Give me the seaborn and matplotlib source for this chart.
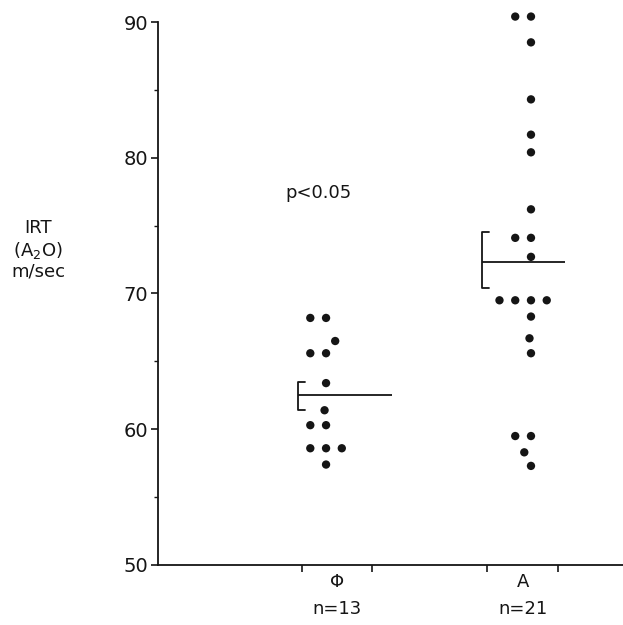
import numpy as np
import pandas as pd
import matplotlib
matplotlib.use("Agg")
import matplotlib.pyplot as plt
import seaborn as sns

# ---- data ----
groups = ["Φ", "A"]
group_n = [13, 21]
phi_values = [68.2, 68.2, 66.5, 65.6, 65.6, 63.4, 61.4, 60.3, 60.3,
              58.6, 58.6, 58.6, 57.4]
a_values = [90.4, 90.4, 88.5, 84.3, 81.7, 80.4, 76.2, 74.1, 74.1, 72.7,
            69.5, 69.5, 69.5, 69.5, 68.3, 66.7, 65.6, 59.5, 59.5, 58.3, 57.3]
group_means = [62.5, 72.3]
sem_low = [61.4, 70.4]
sem_high = [63.5, 74.5]
y_ticks = [50, 60, 70, 80, 90]
y_minor = [55, 65, 75, 85]
p_text = "p<0.05"

df = pd.DataFrame({
    "group": [groups[0]] * len(phi_values) + [groups[1]] * len(a_values),
    "IRT": phi_values + a_values,
})

sns.set_theme(style="white")
plt.rcParams["font.family"] = ["DejaVu Sans"]
ink = "#151515"

fig = plt.figure(figsize=(6.23, 6.25), dpi=100)
ax = fig.add_axes([158 / 623, 1 - 565 / 625, 1 - 158 / 623, (565 - 22) / 625])

sns.swarmplot(data=df, x="group", y="IRT", order=groups, ax=ax,
              color=ink, size=6.0, linewidth=4.8, edgecolor="none")
for coll in ax.collections:
    coll.set_clip_on(False)

# mean line + SEM bracket
line_spans = [(-0.137, 0.322), (0.761, 1.166)]
for i in range(len(groups)):
    x0, x1 = line_spans[i]
    ax.plot([x0, x1], [group_means[i], group_means[i]], color=ink, lw=1.3,
            solid_capstyle="butt")
    ax.plot([x0 + 0.035, x0, x0, x0 + 0.035],
            [sem_low[i], sem_low[i], sem_high[i], sem_high[i]],
            color=ink, lw=1.3)

ax.set_xlim(-0.82, 1.449)
ax.set_ylim(50, 90)

# axes styling
for s in ["top", "right"]:
    ax.spines[s].set_visible(False)
for s in ["left", "bottom"]:
    ax.spines[s].set_color(ink)
    ax.spines[s].set_linewidth(1.3)

ax.set_yticks(y_ticks)
ax.set_yticklabels([str(v) for v in y_ticks], fontsize=14, color=ink)
ax.set_yticks(y_minor, minor=True)
ax.tick_params(axis="y", which="major", direction="out", length=5, width=1.2,
               color=ink, pad=2, left=True)
ax.tick_params(axis="y", which="minor", direction="out", length=3, width=1.0,
               color=ink, left=True)

# x: bracket ticks (major) and category labels (minor)
ax.set_xticks([-0.117, 0.224, 0.785, 1.132])
ax.set_xticklabels([])
ax.set_xticks([0.054, 0.96], minor=True)
ax.set_xticklabels([f"{g}\nn={n}" for g, n in zip(groups, group_n)],
                   minor=True, fontsize=13, color=ink, linespacing=1.6)
ax.tick_params(axis="x", which="major", direction="out", length=5, width=1.2,
               color=ink, bottom=True)
ax.tick_params(axis="x", which="minor", length=0, pad=6)

ax.set_xlabel("")
ax.set_ylabel("")

fig.text(38 / 623, 1 - 250 / 625, "IRT\n(A$_2$O)\nm/sec", ha="center",
         va="center", fontsize=13, color=ink, linespacing=1.15)
ax.text(-0.2, 77.4, p_text, fontsize=13, color=ink, ha="left", va="center")

fig.savefig("out.png", dpi=100, facecolor="white")
